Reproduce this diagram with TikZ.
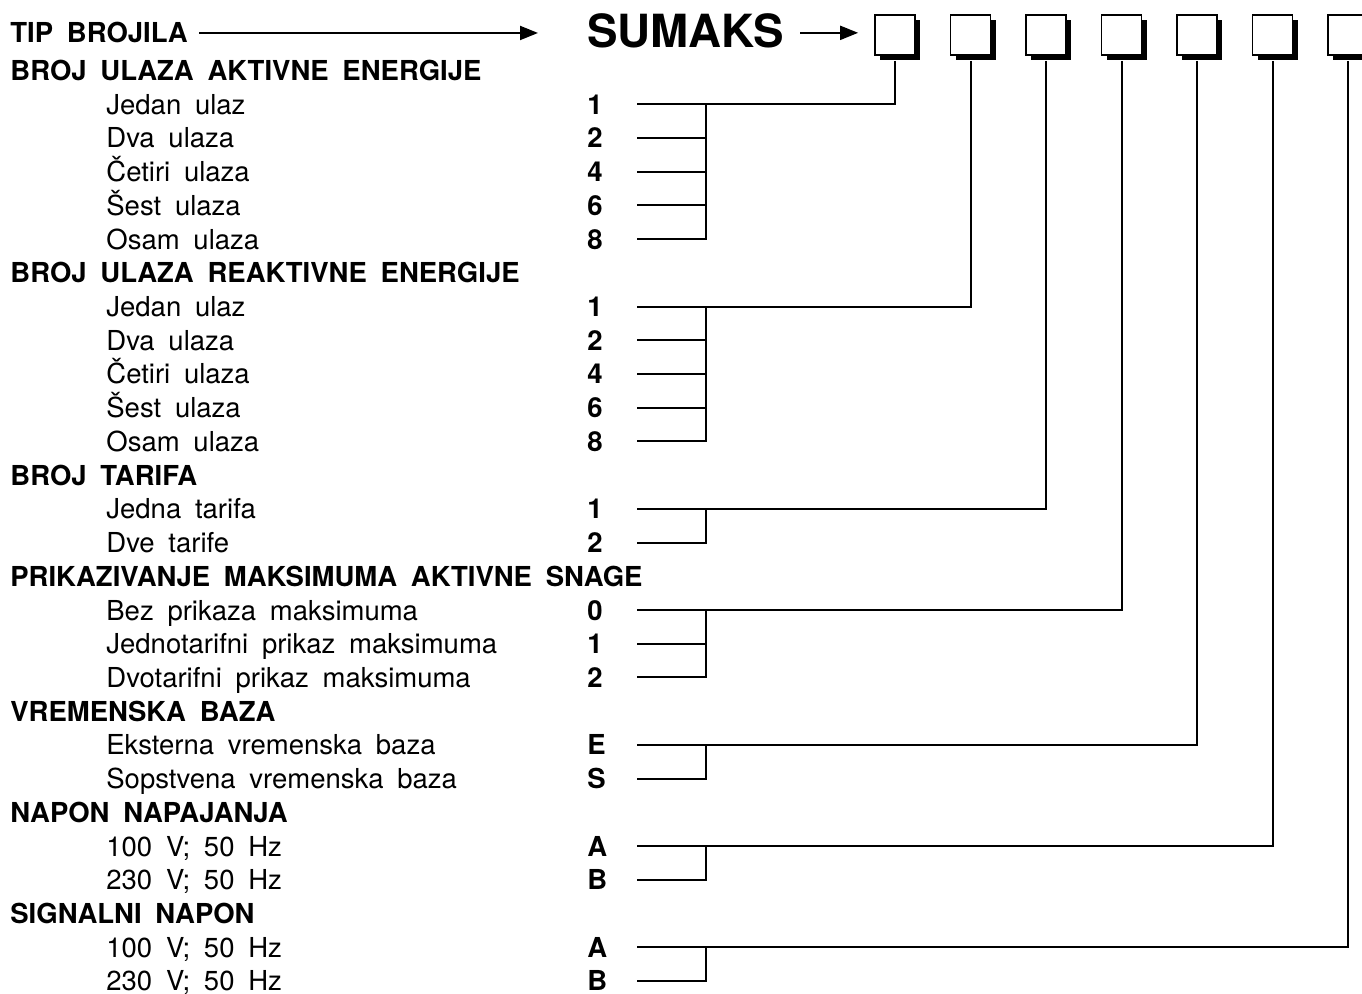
\documentclass[tikz,border=0pt]{standalone}
\usepackage{fontspec}
\setmainfont[WordSpace=1.8]{TeX Gyre Heros}
\usetikzlibrary{arrows.meta,shadows}
\begin{document}
\begin{tikzpicture}[x=0.5pt,y=-0.5pt,
  declare function={ry(\i)=70.5+33.72*(\i-1);},
  txt/.style={anchor=base west, inner sep=0pt, font=\fontsize{13.75pt}{16pt}\selectfont},
  hdr/.style={txt, font=\fontsize{13.75pt}{16pt}\selectfont\bfseries},
  codelbl/.style={hdr},
  wire/.style={line width=1pt},
  arr/.style={line width=1pt, -{Triangle[length=9pt,width=7pt]}},
  digitbox/.style={draw, line width=0.85pt, fill=white, minimum width=20pt, minimum height=20pt, inner sep=0pt,
     drop shadow={shadow xshift=2.5pt, shadow yshift=-2.5pt, fill=black, opacity=1}}
]
\useasboundingbox (0,0) rectangle (1362,994);

% title row
\node[hdr] (t) at (10,43) {TIP BROJILA};
\node[txt, font=\fontsize{22.85pt}{26pt}\selectfont\bfseries] (sumaks) at (587,47.5) {SUMAKS};
\coordinate (ta) at (538,33);
\draw[arr] ([xshift=5.5pt]t.east) -- (t.east -| ta);

\foreach \k in {1,...,7}{
  \node[digitbox] (b\k) at ({895+75.5*(\k-1)},35) {};
}
\draw[arr] ([xshift=8pt,yshift=-1pt]sumaks.east) -- ([xshift=-8pt,yshift=-1pt]sumaks.east -| b1.west);

% headers
\node[hdr] (h1)  at (10,{ry(1)+10})  {BROJ ULAZA AKTIVNE ENERGIJE};
\node[hdr] (h7)  at (10,{ry(7)+10})  {BROJ ULAZA REAKTIVNE ENERGIJE};
\node[hdr] (h13) at (10,{ry(13)+10}) {BROJ TARIFA};
\node[hdr] (h16) at (10,{ry(16)+10}) {PRIKAZIVANJE MAKSIMUMA AKTIVNE SNAGE};
\node[hdr] (h20) at (10,{ry(20)+10}) {VREMENSKA BAZA};
\node[hdr] (h23) at (10,{ry(23)+10}) {NAPON NAPAJANJA};
\node[hdr] (h26) at (10,{ry(26)+10}) {SIGNALNI NAPON};

% items and codes
\foreach \r/\t/\c in {2/Jedan ulaz/1, 3/Dva ulaza/2, 4/Četiri ulaza/4, 5/Šest ulaza/6, 6/Osam ulaza/8,
  8/Jedan ulaz/1, 9/Dva ulaza/2, 10/Četiri ulaza/4, 11/Šest ulaza/6, 12/Osam ulaza/8,
  14/Jedna tarifa/1, 15/Dve tarife/2,
  17/Bez prikaza maksimuma/0, 18/Jednotarifni prikaz maksimuma/1, 19/Dvotarifni prikaz maksimuma/2,
  21/Eksterna vremenska baza/E, 22/Sopstvena vremenska baza/S,
  24/100 V; 50 Hz/A, 25/230 V; 50 Hz/B,
  27/100 V; 50 Hz/A, 28/230 V; 50 Hz/B}{
  \node[txt] (i\r) at (106,{ry(\r)+10}) {\t};
  \node[codelbl] (c\r) at (587,{ry(\r)+10}) {\c};
  \coordinate (s\r) at (637,{ry(\r)});
}

% connectors: group first row, last row, box
\foreach \f/\l/\k in {2/6/1, 8/12/2, 14/15/3, 17/19/4, 21/22/5, 24/25/6, 27/28/7}{
  \coordinate (j\f) at (706,{ry(\f)});
  \draw[wire] ([yshift=-2.5pt]b\k.south) |- (s\f);
  \draw[wire] (s\l) -| (j\f);
}
\foreach \r/\f in {3/2, 4/2, 5/2, 9/8, 10/8, 11/8, 18/17}{
  \draw[wire] (s\r) -- (s\r -| j\f);
}
\end{tikzpicture}
\end{document}
